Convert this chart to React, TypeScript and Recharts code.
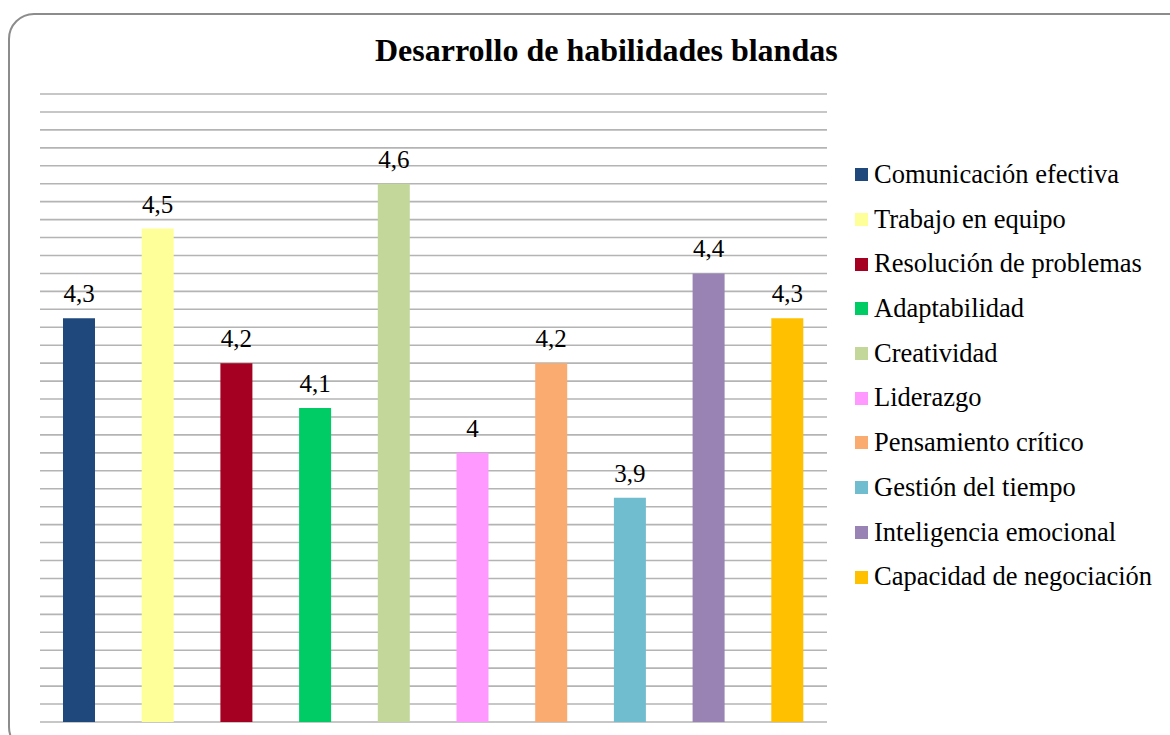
import React from 'react';
import { Bar, BarChart, CartesianGrid, Cell, LabelList, XAxis, YAxis } from 'recharts';

const skills = [
  'Comunicación efectiva',
  'Trabajo en equipo',
  'Resolución de problemas',
  'Adaptabilidad',
  'Creatividad',
  'Liderazgo',
  'Pensamiento crítico',
  'Gestión del tiempo',
  'Inteligencia emocional',
  'Capacidad de negociación'
];
const scores = [4.3, 4.5, 4.2, 4.1, 4.6, 4.0, 4.2, 3.9, 4.4, 4.3];
const colors = [
  '#1F497D', '#FFFF99', '#A50021', '#00CC66', '#C4D79B',
  '#FF99FF', '#FAAB6F', '#71BDD0', '#9983B5', '#FFC000'
];
// gridlines every 0.04 between 3.4 and 4.8
const yTicks = Array.from({ length: 36 }, (_, i) => Math.round((3.4 + i * 0.04) * 100) / 100);

const data = skills.map((name, i) => ({ name, value: scores[i] }));

const FONT = '"Liberation Serif", "Times New Roman", serif';

function SkillLegend () {
  return (
    <div style={{ position: 'absolute', left: 855, top: 152, width: 310, fontFamily: FONT, fontSize: 26.5, color: '#000' }}>
      {skills.map((s, i) => (
        <div key={s} style={{ display: 'flex', alignItems: 'center', height: 44.7, lineHeight: '44.7px', whiteSpace: 'nowrap' }}>
          <span style={{ display: 'inline-block', width: 13, height: 13, background: colors[i], marginRight: 6, marginTop: 1 }} />
          <span>{s}</span>
        </div>
      ))}
    </div>
  );
}

export default function App () {
  return (
    <div style={{ position: 'fixed', left: 0, top: 0, width: 1170, height: 735, overflow: 'hidden', background: '#fff' }}>
      <div style={{ position: 'absolute', left: 8, top: 13, width: 1200, height: 740, border: '2px solid #8c8c8c', borderRadius: 26, boxSizing: 'border-box' }} />
      <div style={{ position: 'absolute', left: 375, top: 34, whiteSpace: 'nowrap', fontFamily: FONT, fontSize: 32, fontWeight: 'bold', lineHeight: '32px' }}>
        Desarrollo de habilidades blandas
      </div>
      <div style={{ position: 'absolute', left: 0, top: 0 }}>
        <BarChart width={1170} height={735} data={data} margin={{ top: 94, right: 343, bottom: 13, left: 40 }}>
          <CartesianGrid vertical={false} stroke='#b4b4b4' strokeWidth={1.6} />
          <XAxis dataKey='name' tick={false} tickLine={false} axisLine={{ stroke: '#b4b4b4', strokeWidth: 1.6 }} height={0} />
          <YAxis domain={[3.4, 4.8]} ticks={yTicks} interval={0} allowDataOverflow
            tick={{ fill: 'transparent', fontSize: 1 }} tickLine={false} axisLine={false} width={0} />
          <Bar dataKey='value' barSize={32} isAnimationActive={false}>
            {data.map((d, i) => <Cell key={d.name} fill={colors[i]} />)}
            <LabelList dataKey='value' position='top' offset={16}
              formatter={(v: any) => String(v).replace('.', ',')}
              style={{ fontFamily: FONT, fontSize: 25, fill: '#000' }} />
          </Bar>
        </BarChart>
      </div>
      <SkillLegend />
    </div>
  );
}
